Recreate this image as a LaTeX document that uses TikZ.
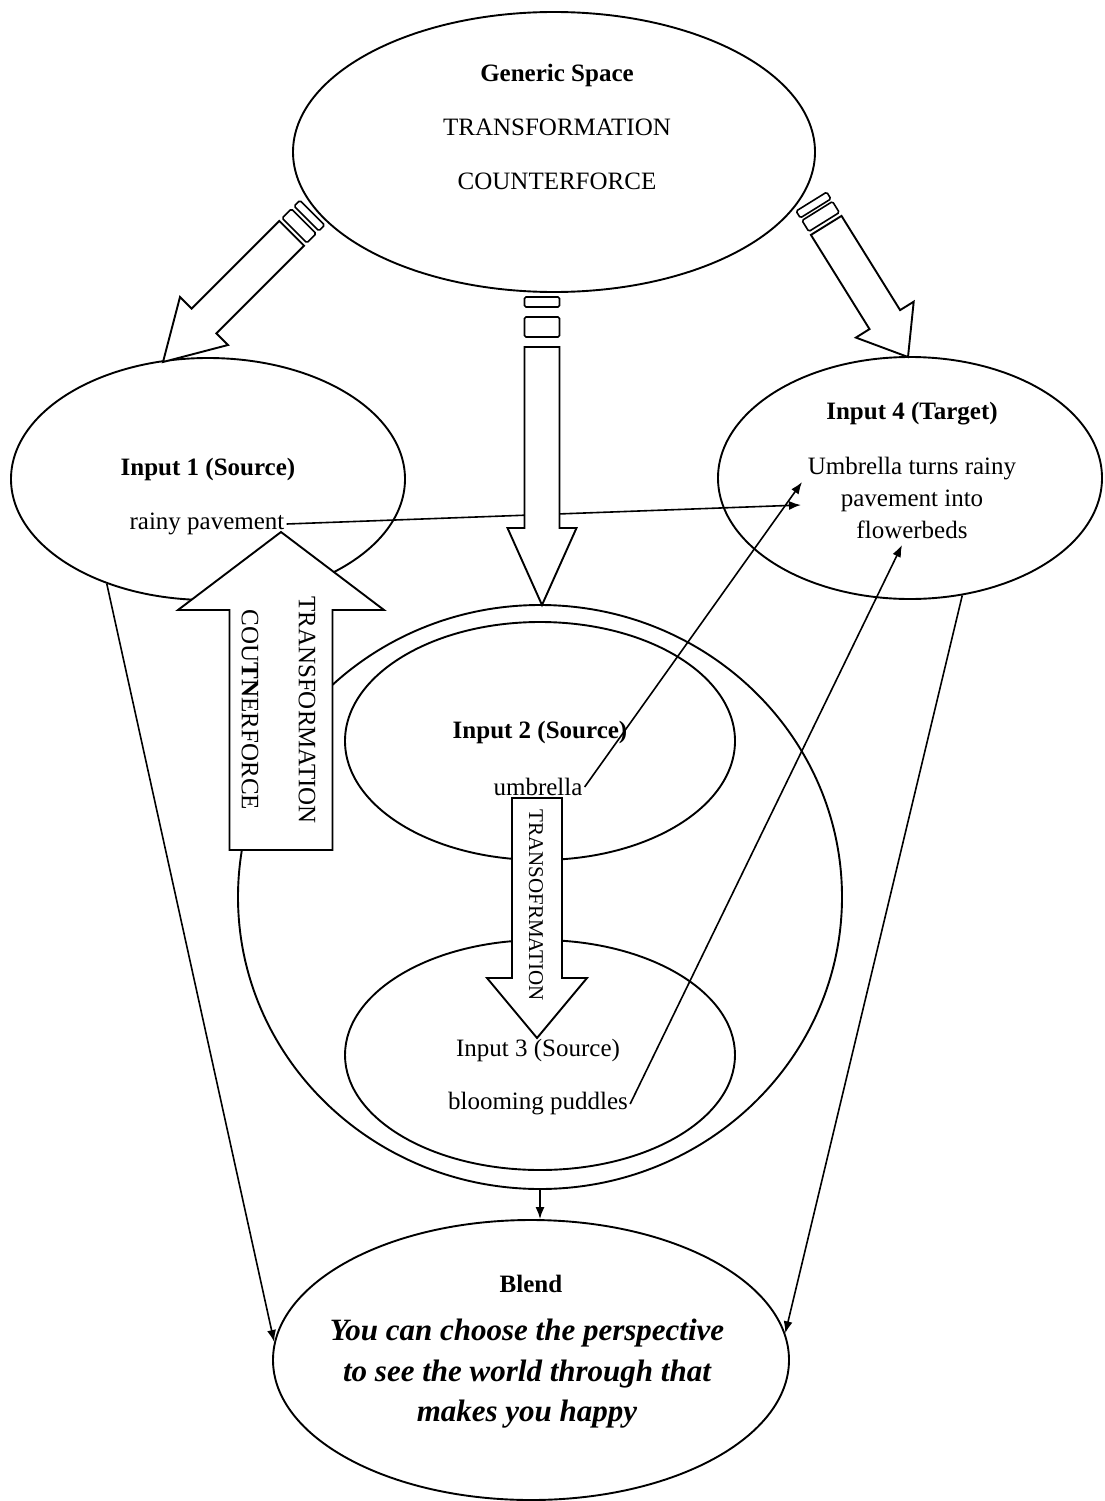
\documentclass[tikz,border=0pt]{standalone}
\usepackage{fontspec}
\setmainfont{Liberation Serif}
\usetikzlibrary{shapes.geometric,arrows.meta}
\tikzset{
  ell/.style={draw, ellipse, line width=1.9pt, inner sep=0pt},
  lbl/.style={font=\fontsize{25}{32}\selectfont, inner sep=2pt, align=center},
  bl/.style={font=\fontsize{25}{32}\selectfont\bfseries, inner sep=2pt, align=center},
  thinarr/.style={line width=1.6pt, -{Latex[length=12pt,width=9pt]}},
  barrow/.style={draw, fill=white, line width=1.9pt, line join=miter},
  blk/.style={draw, fill=white, line width=1.6pt, rounded corners=1.5pt},
}
\begin{document}
\begin{tikzpicture}[x=1pt,y=-1pt]
\useasboundingbox (0,0) rectangle (1104,1501);
\fill[white] (0,0) rectangle (1104,1501);

% ellipses
\node[ell, minimum width=522pt, minimum height=280pt] (gen) at (554,152) {};
\node[ell, minimum width=394pt, minimum height=242pt] (in1) at (208,479) {};
\node[ell, minimum width=384pt, minimum height=242pt] (in4) at (910,478) {};
\node[ell, minimum width=604pt, minimum height=584pt] (big) at (540,897) {};
\node[ell, minimum width=390pt, minimum height=238pt] (in2) at (540,741) {};
\node[ell, minimum width=390pt, minimum height=230pt] (in3) at (540,1055) {};
\node[ell, minimum width=516pt, minimum height=280pt] (blend) at (531,1360) {};

% texts
\node[bl] (genT) at (557,75) {Generic Space};
\node[lbl] (genA) at (557,127) {TRANSFORMATION};
\node[lbl] (genB) at (557,181) {COUNTERFORCE};

\node[bl] (in1T) at (208,469) {Input 1 (Source)};
\node[lbl] (rp) at (207,524) {rainy pavement};

\node[bl] (in4T) at (912,414) {Input 4 (Target)};
\node[lbl] (in4B) at (912,498) {Umbrella turns rainy\\pavement into\\flowerbeds};

\node[bl] (in2T) at (540,732) {Input 2 (Source)};
\node[lbl] (umb) at (538,787) {umbrella};

\node[lbl] (in3T) at (538,1050) {Input 3 (Source)};
\node[lbl] (bp) at (538,1104) {blooming puddles};

\node[bl] (blendT) at (531,1284) {Blend};
\node[font=\fontsize{31}{40.5}\selectfont\bfseries\itshape, align=center, inner sep=0pt] (blendB) at (527,1374) {You can choose the perspective\\to see the world through that\\makes you happy};

% thin connectors
\coordinate (t1) at (801,505);
\coordinate (t2) at (802,482);
\coordinate (t3) at (902,545);
\draw[thinarr] (rp.east) -- (t1);
\draw[thinarr] (umb.east) -- (t2);
\draw[thinarr] (bp.east) -- (t3);
\draw[thinarr] (in1.226) -- (blend.176.5);
\draw[thinarr] (in4.294.6) -- (blend.6.8);
\draw[thinarr] (big.south) -- (big.south |- blend.north);

% left diagonal block arrow
\draw[barrow] (163,362) -- (228,345) -- (216.4,333.4) -- (304.1,245.7) -- (279.3,220.9) -- (191.6,308.6) -- (180,297) -- cycle;
\draw[blk] (306.9,242.9) -- (282.1,218.1) -- (291.3,208.9) -- (316.1,233.7) -- cycle;
\draw[blk] (318.9,230.9) -- (294.1,206.1) -- (299.8,200.4) -- (324.6,225.2) -- cycle;

% right diagonal block arrow
\draw[barrow] (908,357) -- (913.7,301.7) -- (900.1,310.1) -- (841.5,215.9) -- (810.9,234.9) -- (869.5,329.1) -- (855.9,337.6) -- cycle;
\draw[blk] (839.3,212.5) -- (808.8,231.5) -- (802.0,220.5) -- (832.5,201.5) -- cycle;
\draw[blk] (830.9,198.9) -- (800.3,217.9) -- (796.1,211.1) -- (826.7,192.1) -- cycle;

% center vertical block arrow
\draw[barrow] (542,605) -- (576.5,528) -- (559.5,528) -- (559.5,347) -- (524.5,347) -- (524.5,528) -- (507.5,528) -- cycle;
\draw[blk] (524.5,317) rectangle (559.5,337);
\draw[blk] (524.5,297) rectangle (559.5,307);

% big up arrow
\draw[barrow] (281,532) -- (384,610) -- (332.5,610) -- (332.5,850) -- (229.5,850) -- (229.5,610) -- (178,610) -- cycle;
\node[lbl, rotate=-90] (upA) at (307,710) {TRANSFORMATION};
\node[lbl, rotate=-90] (upB) at (250,710) {COU\textbf{TN}ERFORCE};

% middle down arrow
\draw[barrow] (537,1038) -- (587,978) -- (562,978) -- (562,798) -- (512,798) -- (512,978) -- (487,978) -- cycle;
\node[font=\fontsize{21}{25}\selectfont, rotate=-90, inner sep=0pt] (dnA) at (536,905) {TRANSOFRMATION};
\end{tikzpicture}
\end{document}
